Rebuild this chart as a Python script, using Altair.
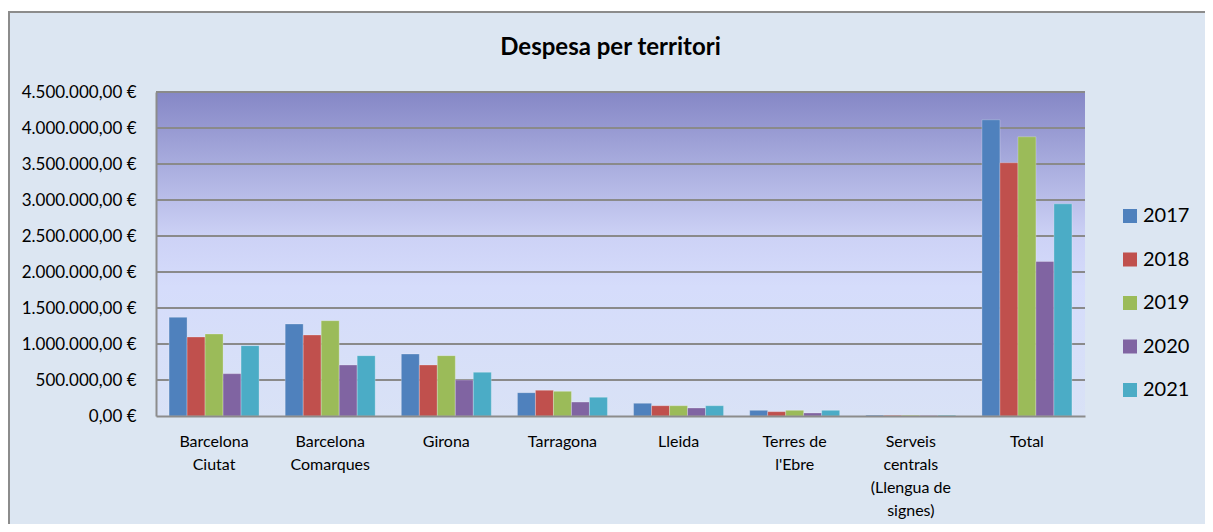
import altair as alt
import pandas as pd

categories = ["Barcelona\nCiutat", "Barcelona\nComarques", "Girona", "Tarragona", "Lleida",
              "Terres de\nl'Ebre", "Serveis\ncentrals\n(Llengua de\nsignes)", "Total"]
years = ["2017", "2018", "2019", "2020", "2021"]
v2017 = [1371000, 1278000, 861000, 324000, 176000, 79000, 12000, 4114000]
v2018 = [1097000, 1125000, 708000, 357000, 143000, 60000, 9000, 3517000]
v2019 = [1139000, 1324000, 838000, 343000, 143000, 79000, 10000, 3878000]
v2020 = [588000, 708000, 500000, 194000, 111000, 42000, 8000, 2146000]
v2021 = [977000, 838000, 607000, 260000, 143000, 79000, 11000, 2947000]
y_ticks = [0, 500000, 1000000, 1500000, 2000000, 2500000, 3000000, 3500000, 4000000, 4500000]
colors = ["#4f81bd", "#c0504d", "#9bbb59", "#8064a2", "#4bacc6"]

rows = []
for yr, vals in zip(years, [v2017, v2018, v2019, v2020, v2021]):
    for c, v in zip(categories, vals):
        rows.append({"cat": c, "year": yr, "value": v})
df = pd.DataFrame(rows)
grid_df = pd.DataFrame({"value": y_ticks[1:]})
one = pd.DataFrame({"a": [0]})

W, H = 929, 324
FONT = "Lato"

yscale = alt.Scale(domain=[0, 4500000], nice=False)

ylabel = ("replace(replace(replace(format(datum.value, ',.2f'), regexp(',', 'g'), '_'), "
          "regexp('[.]', 'g'), ','), regexp('_', 'g'), '.') + ' €'")
yaxis = alt.Axis(title=None, values=y_ticks, ticks=False, grid=False,
                 domainColor="#8c8c8c", domainWidth=2, labelPadding=20,
                 labelFont=FONT, labelFontSize=17, labelColor="#000000",
                 labelExpr=ylabel, zindex=1)

frame = alt.Chart(one).mark_rect(fill="#dce6f2", stroke="#8c8c8c", strokeWidth=2).encode(
    x=alt.value(-147), x2=alt.value(1060), y=alt.value(-80), y2=alt.value(440)
)

grad = alt.Chart(one).mark_rect(
    fill=alt.Gradient(
        gradient="linear",
        stops=[
            alt.GradientStop(offset=0, color="#8587c6"),
            alt.GradientStop(offset=0.45, color="#cdd2f6"),
            alt.GradientStop(offset=0.6, color="#d5dcfb"),
            alt.GradientStop(offset=1, color="#d9e2f6"),
        ],
        x1=0, x2=0, y1=0, y2=1,
    )
).encode(x=alt.value(0), x2=alt.value(W), y=alt.value(0), y2=alt.value(H))

grid = alt.Chart(grid_df).mark_rule(color="#8a8a8a", strokeWidth=2).encode(
    y=alt.Y("value:Q", scale=yscale, axis=yaxis)
)

bars = alt.Chart(df).mark_bar(stroke="#ffffff", strokeOpacity=0.25, strokeWidth=1).encode(
    x=alt.X("cat:N", sort=categories,
            scale=alt.Scale(paddingInner=0.225, paddingOuter=0.1125),
            axis=alt.Axis(title=None, labelAngle=0, ticks=False, domainColor="#8c8c8c",
                          domainWidth=2, labelPadding=17, labelFont=FONT, labelFontSize=16,
                          labelColor="#000000", labelLineHeight=23,
                          labelExpr="split(datum.label, '\\n')", zindex=1)),
    xOffset=alt.XOffset("year:N", sort=years, scale=alt.Scale(paddingInner=0, paddingOuter=0)),
    y=alt.Y("value:Q", scale=yscale, axis=yaxis),
    color=alt.Color("year:N", sort=years, scale=alt.Scale(domain=years, range=colors),
                    legend=alt.Legend(title=None, orient="none", legendX=964, legendY=114,
                                      symbolType="square", symbolSize=196,
                                      symbolStrokeWidth=0, labelFont=FONT,
                                      labelFontSize=20, labelColor="#000000",
                                      labelOffset=3, rowPadding=23.5)),
)

chart = alt.layer(frame, grad, grid, bars).properties(
    width=W, height=H,
    title=alt.TitleParams("Despesa per territori", font=FONT, fontSize=24, fontWeight="bold",
                          color="#000000", anchor="middle", frame="group", dx=-10, offset=-49),
    padding={"left": 148, "top": 84, "right": 120, "bottom": 108},
    autosize=alt.AutoSizeParams(type="none"),
    background="#ffffff",
).configure_view(stroke=None)

chart.save("out.html", embed_options={"renderer": "svg", "actions": False})
